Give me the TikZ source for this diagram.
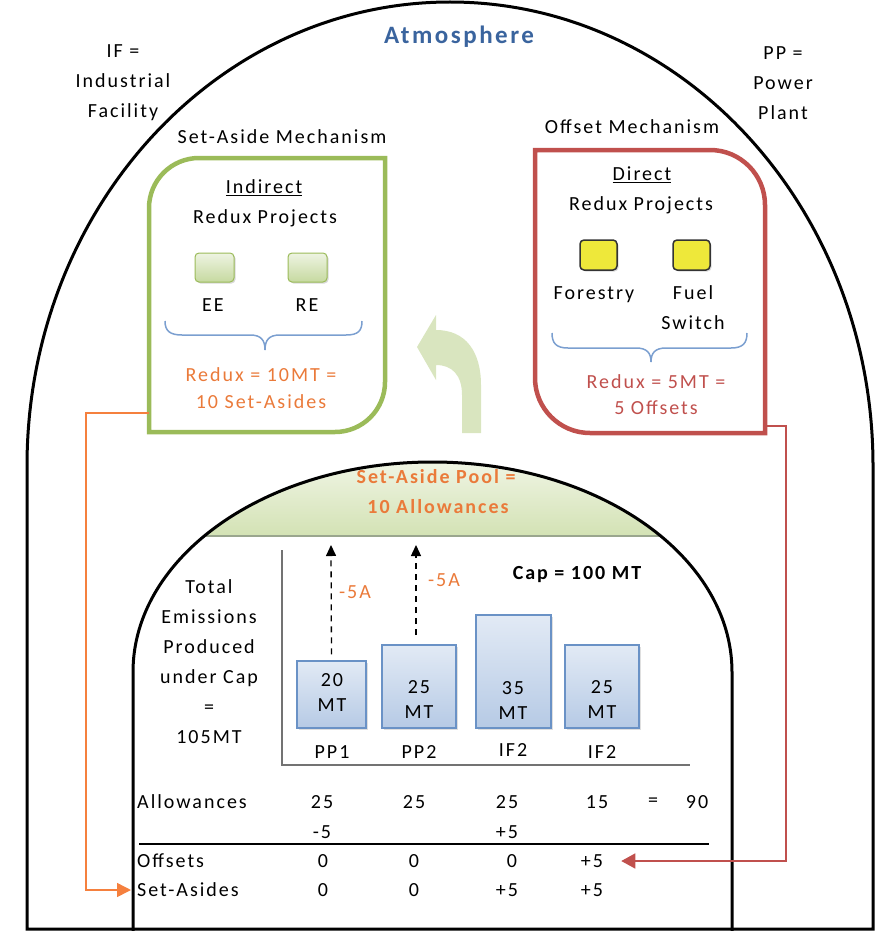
\documentclass[tikz,border=0pt]{standalone}
\usepackage{fontspec}
\setmainfont{Carlito}[LetterSpace=10]
\usetikzlibrary{arrows.meta,shadows}
\definecolor{orangeT}{HTML}{EA7A3A}
\definecolor{orangeL}{HTML}{F5803E}
\definecolor{redB}{HTML}{C0504D}
\definecolor{blueT}{HTML}{3A649E}
\definecolor{greenB}{HTML}{9BBB59}
\definecolor{braceC}{HTML}{7B9FD0}
\definecolor{barD}{HTML}{6A92C6}
\definecolor{barT}{HTML}{E2EAF5}
\definecolor{barB}{HTML}{B6CAE5}
\definecolor{poolT}{HTML}{F3F7EA}
\definecolor{poolB}{HTML}{D3E2B4}
\definecolor{poolL}{HTML}{9AA68E}
\definecolor{arrG}{HTML}{D9E5BF}
\definecolor{sqT}{HTML}{EEF4E2}
\definecolor{sqB}{HTML}{C6D9A0}
\definecolor{yel}{HTML}{EEE83A}
\begin{document}
\begin{tikzpicture}[x=1pt,y=-1pt,
  txt/.style={font=\fontsize{20}{30}\selectfont, inner sep=0pt, align=center},
  btxt/.style={font=\fontsize{20}{25}\selectfont, inner sep=0pt, align=center},
  otxt/.style={txt, text=orangeT},
  rtxt/.style={txt, text=redB},
  boldo/.style={font=\fontsize{20}{30}\selectfont\bfseries, inner sep=0pt, align=center, text=orangeT},
  barbox/.style={draw=barD, line width=1.5pt, top color=barT, bottom color=barB, minimum width=70pt, inner sep=0pt,
    drop shadow={shadow xshift=2pt, shadow yshift=-2pt, opacity=0.25}},
  gsq/.style={draw=greenB, line width=1pt, rounded corners=4pt, top color=sqT, bottom color=sqB,
    minimum width=39pt, minimum height=29pt, inner sep=0pt,
    drop shadow={shadow xshift=1.5pt, shadow yshift=-1.5pt, opacity=0.3}},
  ysq/.style={draw=black!80, line width=1.5pt, rounded corners=4pt, fill=yel,
    minimum width=37pt, minimum height=30pt, inner sep=0pt,
    drop shadow={shadow xshift=1.5pt, shadow yshift=-1.5pt, opacity=0.3}},
  dasharr/.style={dashed, dash pattern=on 6pt off 5pt, line width=1.3pt, -{Triangle[length=11pt,width=10pt]}},
  bracestyle/.style={draw=braceC, line width=1.5pt},
  archline/.style={line width=3pt, black},
]
\useasboundingbox (0,0) rectangle (879,931);

% outer atmosphere arch
\draw[archline] (27,929) -- (27,466) arc[start angle=180,end angle=360,x radius=423,y radius=464] -- (873,929) -- cycle;

% set-aside pool
\shade[top color=poolT, bottom color=poolB] (204.3,536) arc[start angle=220.36,end angle=319.64,x radius=299.5,y radius=210] -- cycle;
\draw[poolL, line width=2.5pt] (204.3,536) -- (660.7,536);
% inner arch
\draw[archline] (133,931) -- (133,672) arc[start angle=180,end angle=360,x radius=299.5,y radius=210] -- (732,931);

% green curved arrow
\fill[arrG] (462,433) -- (481,433) -- (481,385) .. controls (481,352) and (466,330) .. (436,330) -- (436,315) -- (417,347) -- (436,380) -- (436,365) .. controls (452,365) and (462,375) .. (462,395) -- cycle;

% set-aside box (green)
\draw[greenB, line width=4.5pt] (149,432) -- (149,208) arc[start angle=180,end angle=270,radius=50] -- (385,158) -- (385,382) arc[start angle=0,end angle=90,radius=50] -- cycle;
% offset box (red)
\draw[redB, line width=4.5pt] (535,150) -- (710,150) arc[start angle=270,end angle=360,radius=55] -- (765,433) -- (590,433) arc[start angle=90,end angle=180,radius=55] -- cycle;

% top labels
\node[font=\fontsize{25}{30}\selectfont\bfseries, text=blueT, inner sep=0pt] (atm) at (459,37) {Atmosphere};
\node[txt] (iflab) at (123,83) {IF =\\Industrial\\Facility};
\node[txt] (pplab) at (783,83) {PP =\\Power\\Plant};
\node[txt] (samech) at (282,137) {Set-Aside Mechanism};
\node[txt] (offmech) at (632,127) {Offset Mechanism};

% green box content
\node[txt] (indirect) at (264,188) {\underline{Indirect}};
\node[txt] (rp1) at (265,218) {Redux Projects};
\node[gsq] (eesq) at (214.5,267.5) {};
\node[gsq] (resq) at (307.5,267.5) {};
\node[txt] (ee) at (213,305) {EE};
\node[txt] (re) at (307,305) {RE};
\draw[bracestyle] (165,321) .. controls (165,331) and (170,335) .. (182,335) -- (250,335) .. controls (261,335) and (265,340) .. (265,350) .. controls (265,340) and (269,335) .. (280,335) -- (346,335) .. controls (358,335) and (362,331) .. (362,321);
\node[otxt] (rx10) at (261,375) {Redux = 10MT =};
\node[otxt] (sa10) at (261,402) {10 Set-Asides};

% red box content
\node[txt] (direct) at (642,175) {\underline{Direct}};
\node[txt] (rp2) at (641,205) {Redux Projects};
\node[ysq] (forsq) at (598.5,255) {};
\node[ysq] (fuelsq) at (691.5,255) {};
\node[txt] (forestry) at (594,295) {Forestry};
\node[txt] (fuel) at (693,308) {Fuel\\Switch};
\draw[bracestyle] (552,333) .. controls (552,343) and (556,348) .. (568,348) -- (636,348) .. controls (647,348) and (651,353) .. (651,362) .. controls (651,353) and (655,348) .. (666,348) -- (731,348) .. controls (743,348) and (747,343) .. (747,333);
\node[rtxt] (rx5) at (656,382) {Redux = 5MT =};
\node[rtxt] (of5) at (656,408) {5 Offsets};

% pool text
\node[boldo] (pool1) at (436,477) {Set-Aside Pool =};
\node[boldo] (pool2) at (438,507) {10 Allowances};

% chart
\draw[black!55, line width=1.5pt] (282,550) -- (282,765) -- (690,765);
\node[txt] (total) at (209,662) {Total\\Emissions\\Produced\\under Cap\\=\\105MT};
\node[font=\fontsize{20}{30}\selectfont\bfseries, inner sep=0pt] (cap) at (577,575) {Cap = 100 MT};

\node[barbox, minimum width=69pt, minimum height=67pt] (b1) at (331.5,694.5) {};
\node[barbox, minimum width=74pt, minimum height=83pt] (b2) at (419,686.5) {};
\node[barbox, minimum width=75pt, minimum height=113pt] (b3) at (513.5,671.5) {};
\node[barbox, minimum width=74pt, minimum height=83pt] (b4) at (602,686.5) {};
\node[btxt] (t1) at (332,693) {20\\MT};
\node[btxt] (t2) at (419,700) {25\\MT};
\node[btxt] (t3) at (513,701) {35\\MT};
\node[btxt] (t4) at (602,700) {25\\MT};
\node[txt] (l1) at (332,752) {PP1};
\node[txt] (l2) at (419,752) {PP2};
\node[txt] (l3) at (513,750) {IF2};
\node[txt] (l4) at (602,752) {IF2};

\coordinate (up1) at (331,545);
\coordinate (up2) at (416,545);
\draw[dasharr, shorten <=6pt] (b1.north) -- (up1);
\draw[dasharr] (up2 |- 0,635) -- (up2);
\node[otxt] (m5a1) at (355,592) {-5A};
\node[otxt] (m5a2) at (444,580) {-5A};

% table
\node[txt, anchor=west] (allow) at (137,802) {Allowances};
\node[txt] (al1) at (322,802) {25};
\node[txt] (al2) at (414,802) {25};
\node[txt] (al3) at (507,802) {25};
\node[txt] (al4) at (597,802) {15};
\node[txt] (aleq) at (653,802) {=};
\node[txt] (al90) at (697,802) {90};
\node[txt] (ad1) at (322,832) {-5};
\node[txt] (ad3) at (507,832) {+5};
\draw[black, line width=1.5pt] (139,844) -- (709,844);
\node[txt, anchor=west] (offs) at (137,861) {Offsets};
\node[txt] (of1) at (323,861) {0};
\node[txt] (of2) at (414,861) {0};
\node[txt] (of3) at (512,861) {0};
\node[txt] (of4) at (592,861) {+5};
\node[txt, anchor=west] (setas) at (137,890) {Set-Asides};
\node[txt] (sa1) at (323,890) {0};
\node[txt] (sa2) at (414,890) {0};
\node[txt] (sa3) at (507,890) {+5};
\node[txt] (sa4) at (592,890) {+5};

% connectors
\coordinate (gbout) at (149,413);
\coordinate (rbout) at (765,426);
\draw[orangeL, line width=1.5pt, -{Triangle[length=14pt,width=14pt]}] (gbout) -- ++(-63,0) |- ([xshift=-6pt]setas.west);
\draw[redB, line width=1.5pt, -{Triangle[length=14pt,width=15pt]}] (rbout) -- ++(21,0) |- ([xshift=18pt]of4.east);
\end{tikzpicture}
\end{document}
